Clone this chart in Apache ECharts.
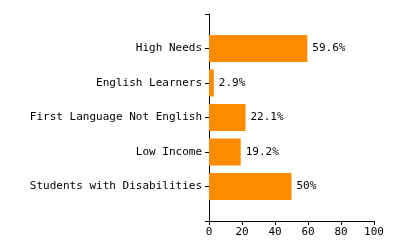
<!DOCTYPE html>
<html>
<head>
<meta charset="utf-8">
<script src="https://cdn.jsdelivr.net/npm/echarts@6/dist/echarts.min.js"></script>
<style>
  html, body { margin: 0; padding: 0; background: #fff; }
  #chart { width: 400px; height: 250px; }
</style>
</head>
<body>
<div id="chart"></div>
<script>
// groups and percentages, top to bottom
var categories = ["High Needs", "English Learners", "First Language Not English", "Low Income", "Students with Disabilities"];
var percents = [59.6, 2.9, 22.1, 19.2, 50];
var xTicks = [0, 20, 40, 60, 80, 100];

// empty slot at each end so the bars sit one step in from the axis ends
var cats = [""].concat(categories, [""]);
var vals = ["-"].concat(percents, ["-"]);

var font = "DejaVu Sans Mono";
var chart = echarts.init(document.getElementById("chart"));
chart.setOption({
    animation: false,
    grid: {
        left: 209,
        right: 26,
        top: 14,
        bottom: 29,
        containLabel: false,
        outerBoundsMode: "none"
    },
    xAxis: {
        type: "value",
        min: xTicks[0],
        max: xTicks[xTicks.length - 1],
        interval: 20,
        splitLine: { show: false },
        axisLine: { show: true, lineStyle: { color: "#000", width: 1 } },
        axisTick: { show: true, length: 4, lineStyle: { color: "#000" } },
        axisLabel: { color: "#000", fontFamily: font, fontSize: 11, margin: 6 }
    },
    yAxis: {
        type: "category",
        data: cats,
        inverse: true,
        boundaryGap: false,
        axisLine: { show: true, onZero: false, lineStyle: { color: "#000", width: 1 } },
        axisTick: { show: true, length: 4, lineStyle: { color: "#000" } },
        axisLabel: { color: "#000", fontFamily: font, fontSize: 11, margin: 7, interval: 0 },
        splitLine: { show: false }
    },
    series: [{
        type: "bar",
        data: vals,
        barWidth: 27,
        itemStyle: { color: "#ff8c00" },
        label: {
            show: true,
            position: "right",
            distance: 5,
            color: "#000",
            fontFamily: font,
            fontSize: 11,
            formatter: function (p) { return p.value + "%"; }
        }
    }]
});
</script>
</body>
</html>
